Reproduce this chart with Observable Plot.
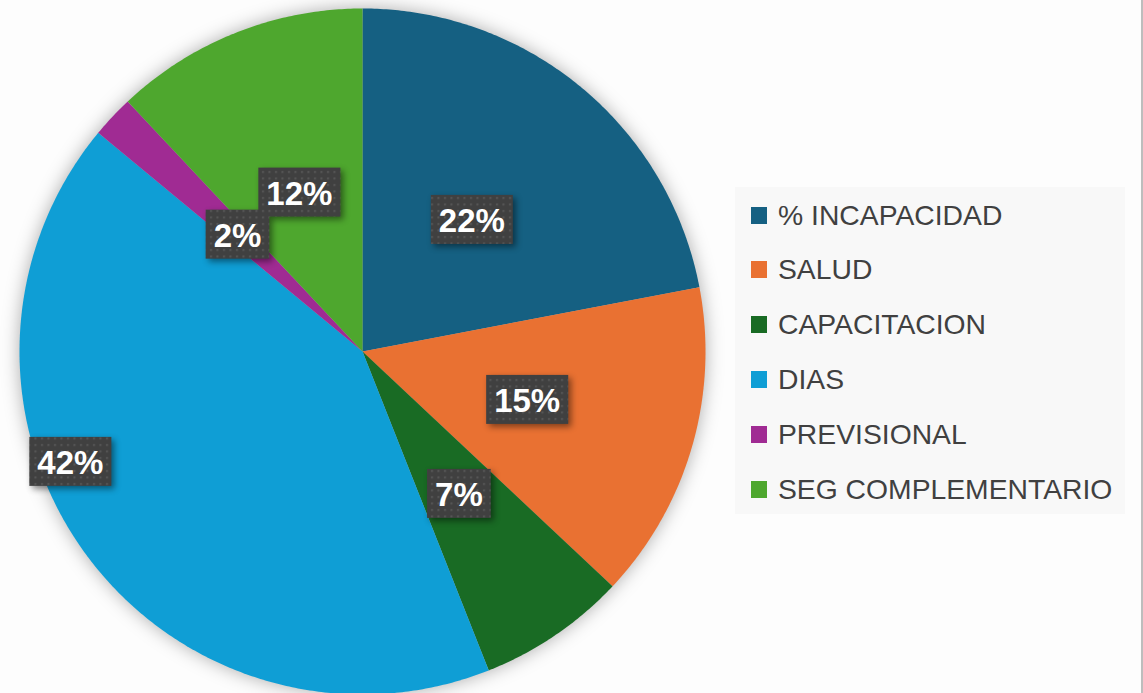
<!DOCTYPE html>
<html>
<head>
<meta charset="utf-8">
<script src="https://cdn.jsdelivr.net/npm/d3@7"></script>
<script src="https://cdn.jsdelivr.net/npm/@observablehq/plot@0.6"></script>
<style>
  html, body { margin: 0; padding: 0; background: #ffffff; }
  #wrap { position: relative; width: 1143px; height: 693px; overflow: hidden; background: #fdfdfd; }
  #wrap svg { position: absolute; left: 0; top: 0; background: transparent; }
  #legend { position: absolute; left: 735px; top: 187px; width: 390px; height: 327px; background: #f8f8f8; }
  .row { position: absolute; left: 16px; height: 30px; display: flex; align-items: center; }
  .sw { width: 16px; height: 17px; margin-right: 11px; }
  .lab { font-family: "Liberation Sans", Arial, sans-serif; font-size: 28.3px; color: #404040; white-space: nowrap; }
  #edge { position: absolute; left: 1141px; top: 0; width: 2px; height: 693px; background: #bdbdbd; }
</style>
</head>
<body>
<div id="wrap"></div>
<script>
// ---- data ----
const categories = ["% INCAPACIDAD", "SALUD", "CAPACITACION", "DIAS", "PREVISIONAL", "SEG COMPLEMENTARIO"];
const values = [22, 15, 7, 42, 2, 12];
const colors = ["#156082", "#E97132", "#196B24", "#0F9ED5", "#A02B93", "#4EA72E"];

// ---- geometry from data ----
const total = d3.sum(values);
const slicePts = [];
const labels = [];
let acc = 0;
const labelOverride = { "DIAS": { angleDeg: 249.4, r: 0.91 } };
categories.forEach((name, i) => {
  const a0 = acc / total * 2 * Math.PI;
  acc += values[i];
  const a1 = acc / total * 2 * Math.PI;
  slicePts.push({ name, x: 0, y: 0 });
  const n = Math.max(2, Math.ceil((a1 - a0) / (Math.PI / 360)));
  for (let k = 0; k <= n; k++) {
    const a = a0 + (a1 - a0) * k / n;
    slicePts.push({ name, x: Math.sin(a), y: Math.cos(a) });
  }
  let mid = (a0 + a1) / 2, r = 0.5;
  if (labelOverride[name]) { mid = labelOverride[name].angleDeg * Math.PI / 180; r = labelOverride[name].r; }
  labels.push({ name, x: r * Math.sin(mid), y: r * Math.cos(mid), text: Math.round(values[i] / total * 100) + "%" });
});

const plot = Plot.plot({
  width: 1143,
  height: 693,
  margin: 0,
  style: { background: "transparent" },
  x: { domain: [-1, 1], range: [19, 705], axis: null },
  y: { domain: [-1, 1], range: [694, 8], axis: null },
  color: { domain: categories, range: colors },
  marks: [
    Plot.line(slicePts, { x: "x", y: "y", z: "name", fill: "name", stroke: null, curve: "linear-closed" }),
    Plot.text(labels, { x: "x", y: "y", dy: 2, text: "text", fill: "white", fontSize: 33, fontWeight: "bold", fontFamily: "Liberation Sans, Arial, sans-serif" })
  ]
});

const wrap = document.getElementById("wrap");
wrap.appendChild(plot);

// shadow on the pie
const pieG = plot.querySelector('g[aria-label="line"]');
if (pieG) pieG.style.filter = "drop-shadow(0px 0px 9px rgba(0,0,0,0.32))";

// patterned label boxes
const ns = "http://www.w3.org/2000/svg";
const defs = document.createElementNS(ns, "defs");
defs.innerHTML = '<pattern id="dots" width="6.5" height="6.5" patternUnits="userSpaceOnUse">' +
  '<rect width="6.5" height="6.5" fill="#404040"/><rect x="2" y="2" width="2" height="2" fill="#575757"/></pattern>';
plot.insertBefore(defs, plot.firstChild);
const textG = plot.querySelector('g[aria-label="text"]');
if (textG) {
  const boxG = document.createElementNS(ns, "g");
  boxG.style.filter = "drop-shadow(3px 3px 3px rgba(0,0,0,0.45))";
  textG.parentNode.insertBefore(boxG, textG);
  const svgRect = plot.getBoundingClientRect();
  textG.querySelectorAll("text").forEach(t => {
    const cr = t.getBoundingClientRect();
    const w = cr.width + 16, h = 49;
    const cx = cr.left - svgRect.left + cr.width / 2;
    const cy = cr.top - svgRect.top + cr.height / 2;
    const r = document.createElementNS(ns, "rect");
    r.setAttribute("x", cx - w / 2);
    r.setAttribute("y", cy - h / 2 - 1);
    r.setAttribute("width", w);
    r.setAttribute("height", h);
    r.setAttribute("fill", "url(#dots)");
    boxG.appendChild(r);
  });
}

// legend
const legend = document.createElement("div");
legend.id = "legend";
categories.forEach((name, i) => {
  const row = document.createElement("div");
  row.className = "row";
  row.style.top = (13 + i * 54.8) + "px";
  row.innerHTML = '<div class="sw" style="background:' + colors[i] + '"></div><span class="lab"></span>';
  row.querySelector(".lab").textContent = name;
  legend.appendChild(row);
});
wrap.appendChild(legend);
const edge = document.createElement("div");
edge.id = "edge";
wrap.appendChild(edge);
</script>
</body>
</html>
